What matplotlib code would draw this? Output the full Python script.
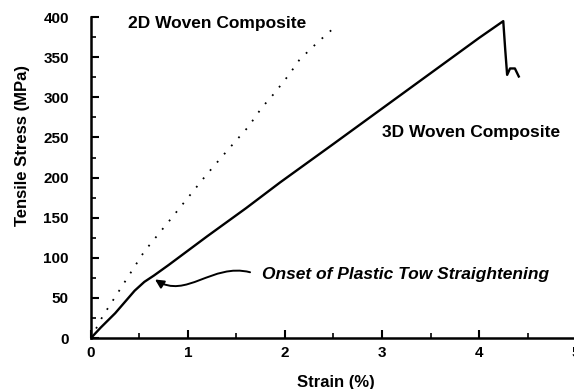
import matplotlib
matplotlib.use('Agg')
import matplotlib.pyplot as plt
from matplotlib.path import Path
from matplotlib.patches import FancyArrowPatch
import numpy as np

plt.rcParams['font.family'] = ['Liberation Sans', 'DejaVu Sans']
plt.rcParams['font.weight'] = 'bold'
plt.rcParams['axes.labelweight'] = 'bold'

# 2D woven composite (dotted trace)
strain_2d = [0, 0.12, 0.28, 0.55, 0.8, 1.04, 1.18, 1.35, 1.48, 1.62,
             1.76, 1.89, 2.04, 2.15, 2.34, 2.49]
stress_2d = [0, 27, 57, 108, 145, 181, 202, 226, 244, 263,
             287, 305, 328, 347, 369, 385]

# 3D woven composite (solid trace, failure at ~4.25 %)
strain_3d = [0, 0.1, 0.25, 0.45, 0.55, 0.65, 0.8, 1.2, 1.6, 1.95, 2.5,
             3.0, 3.5, 4.0, 4.25, 4.27, 4.29, 4.32, 4.37, 4.41]
stress_3d = [0, 13, 31, 59, 70, 78, 91, 127, 162, 194, 242,
             286, 330, 374, 395, 360, 328, 336, 336, 326]

xticks = [0, 1, 2, 3, 4, 5]
yticks = [0, 50, 100, 150, 200, 250, 300, 350, 400]

fig = plt.figure(figsize=(5.74, 3.89), dpi=100)
ax = fig.add_axes([0.1585, 0.131, 0.845, 0.825])

ax.plot(strain_3d, stress_3d, color='black', lw=1.7, solid_joinstyle='round')
ax.plot(strain_2d, stress_2d, color='black', lw=1.3, dashes=(1, 5))

ax.set_xlim(0, 5)
ax.set_ylim(0, 400)
ax.set_xticks(xticks)
ax.set_yticks(yticks)
ax.set_xticks(np.arange(0.5, 5, 1), minor=True)
ax.set_yticks(np.arange(25, 400, 50), minor=True)

for side in ['top', 'right']:
    ax.spines[side].set_visible(False)
for side in ['left', 'bottom']:
    ax.spines[side].set_linewidth(1.8)

ax.tick_params(which='major', direction='in', length=6, width=1.5,
               labelsize=11, pad=6)
ax.tick_params(which='minor', direction='in', length=3.5, width=1.2)
ax.tick_params(axis='y', which='major', pad=16)

ax.set_xlabel('Strain (%)', fontsize=12)
ax.set_ylabel('Tensile Stress (MPa)', fontsize=12)
ax.xaxis.set_label_coords(0.505, -0.115)
ax.yaxis.set_label_coords(-0.125, 0.6)

ax.text(0.38, 392, '2D Woven Composite', fontsize=12.5, va='center')
ax.text(3.0, 256, '3D Woven Composite', fontsize=12.5, va='center')
ax.text(1.76, 79, 'Onset of Plastic Tow Straightening', fontsize=12.5,
        style='italic', va='center')

# curved pointer from the label to the knee of the 3D curve
curve = Path([(1.64, 82), (1.25, 94), (0.98, 48), (0.66, 73)],
             [Path.MOVETO, Path.CURVE4, Path.CURVE4, Path.CURVE4])
arrow = FancyArrowPatch(path=curve, arrowstyle='-|>', mutation_scale=13,
                        lw=1.4, color='black')
ax.add_patch(arrow)

fig.savefig('out.png', dpi=100)
